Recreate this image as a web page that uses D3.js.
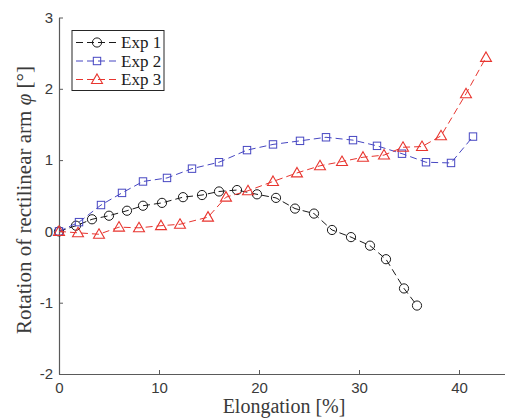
<!DOCTYPE html>
<html>
<head>
<meta charset="utf-8">
<script src="https://cdn.jsdelivr.net/npm/d3@7/dist/d3.min.js"></script>
<style>
  html, body { margin: 0; padding: 0; background: #fff; }
  svg { display: block; }
</style>
</head>
<body>
<svg id="chart" width="505" height="420"></svg>
<script>
// Elongation [%] and rotation [deg] for each experiment
const exp1X = [0, 1.7, 3.3, 5.0, 6.8, 8.4, 10.3, 12.4, 14.3, 16.0, 17.8, 19.8, 21.7, 23.6, 25.5, 27.3, 29.2, 31.1, 32.7, 34.5, 35.8];
const exp1Y = [0, 0.08, 0.17, 0.22, 0.29, 0.36, 0.40, 0.48, 0.51, 0.56, 0.58, 0.52, 0.47, 0.32, 0.25, 0.02, -0.08, -0.20, -0.39, -0.80, -1.04];

const exp2X = [0, 2.0, 4.2, 6.3, 8.4, 10.8, 13.3, 16.0, 18.8, 21.4, 24.1, 26.7, 29.4, 31.8, 34.3, 36.7, 39.2, 41.4];
const exp2Y = [0, 0.13, 0.37, 0.54, 0.70, 0.75, 0.88, 0.97, 1.14, 1.22, 1.27, 1.32, 1.28, 1.20, 1.09, 0.97, 0.96, 1.33];

const exp3X = [0, 1.9, 4.0, 6.0, 8.0, 10.2, 12.1, 14.9, 16.7, 18.9, 21.4, 23.8, 26.1, 28.3, 30.4, 32.5, 34.4, 36.3, 38.2, 40.7, 42.7];
const exp3Y = [0, -0.02, -0.04, 0.06, 0.05, 0.08, 0.10, 0.20, 0.48, 0.57, 0.70, 0.82, 0.92, 0.98, 1.04, 1.07, 1.18, 1.19, 1.34, 1.93, 2.44];

const xTicks = [0, 10, 20, 30, 40];
const yTicks = [-2, -1, 0, 1, 2, 3];
const seriesNames = ["Exp 1", "Exp 2", "Exp 3"];

const series = [
  { name: seriesNames[0], xs: exp1X, ys: exp1Y, color: "#1a1a1a", marker: "circle" },
  { name: seriesNames[1], xs: exp2X, ys: exp2Y, color: "#4747c2", marker: "square" },
  { name: seriesNames[2], xs: exp3X, ys: exp3Y, color: "#e8352f", marker: "triangle" }
];

const svg = d3.select("#chart");
const axisColor = "#5a5a5a";
const serif = "'Liberation Serif', 'DejaVu Serif', serif";
const sans = "'Liberation Sans', Arial, sans-serif";
const plain = d => String(d);

const x = d3.scaleLinear().domain([0, 45]).range([59, 509]);
const y = d3.scaleLinear().domain([-2, 3]).range([374, 17.5]);

// Axes with ticks pointing into the plot
const xAxis = svg.append("g")
  .attr("transform", `translate(0,${y(-2)})`)
  .call(d3.axisBottom(x).tickValues(xTicks).tickFormat(plain).tickSize(-4).tickSizeOuter(0).tickPadding(8));
const yAxis = svg.append("g")
  .attr("transform", `translate(${x(0)},0)`)
  .call(d3.axisLeft(y).tickValues(yTicks).tickFormat(plain).tickSize(-4).tickSizeOuter(0).tickPadding(6));

[xAxis, yAxis].forEach(g => {
  g.select(".domain").attr("stroke", axisColor).attr("stroke-width", 1.2);
  g.selectAll(".tick line").attr("stroke", axisColor).attr("stroke-width", 1);
  g.selectAll(".tick text")
    .attr("fill", "#3a3a3a")
    .style("font-family", sans)
    .style("font-size", "15px");
});

// Series: dashed connecting lines with open markers
const line = d3.line().x(d => x(d[0])).y(d => y(d[1]));

function drawMarker(g, kind, cx, cy, color) {
  if (kind === "circle") {
    g.append("circle").attr("cx", cx).attr("cy", cy).attr("r", 4.6)
      .attr("fill", "none").attr("stroke", color).attr("stroke-width", 1);
  } else if (kind === "square") {
    g.append("rect").attr("x", cx - 3.7).attr("y", cy - 3.7).attr("width", 7.4).attr("height", 7.4)
      .attr("fill", "none").attr("stroke", color).attr("stroke-width", 1);
  } else {
    const s = d3.symbol().type(d3.symbolTriangle).size(52);
    g.append("path").attr("d", s()).attr("transform", `translate(${cx},${cy + 0.8})`)
      .attr("fill", "none").attr("stroke", color).attr("stroke-width", 1.1);
  }
}

const plot = svg.append("g");
series.forEach(s => {
  const pts = s.xs.map((v, i) => [v, s.ys[i]]);
  const g = plot.append("g");
  g.append("path").datum(pts).attr("d", line)
    .attr("fill", "none").attr("stroke", s.color).attr("stroke-width", 1)
    .attr("stroke-dasharray", "7,4");
  pts.forEach(p => drawMarker(g, s.marker, x(p[0]), y(p[1]), s.color));
});

// Legend
const legend = svg.append("g");
legend.append("rect").attr("x", 72).attr("y", 30.5).attr("width", 92).attr("height", 60)
  .attr("fill", "#fff").attr("stroke", "#262626").attr("stroke-width", 1);
series.forEach((s, i) => {
  const ly = 42.5 + i * 18.5;
  legend.append("line").attr("x1", 76).attr("x2", 117).attr("y1", ly).attr("y2", ly)
    .attr("stroke", s.color).attr("stroke-width", 1).attr("stroke-dasharray", "7,4");
  drawMarker(legend, s.marker, 97, ly, s.color);
  legend.append("text").attr("x", 121).attr("y", ly + 5.5)
    .attr("fill", "#1a1a1a")
    .style("font-family", serif).style("font-size", "17px")
    .text(s.name);
});

// Axis titles
svg.append("text")
  .attr("x", 284).attr("y", 413)
  .attr("text-anchor", "middle")
  .attr("fill", "#3a3a3a")
  .style("font-family", serif).style("font-size", "20px")
  .text("Elongation [%]");

const yt = svg.append("text")
  .attr("transform", "translate(31,200) rotate(-90)")
  .attr("text-anchor", "middle")
  .attr("fill", "#3a3a3a")
  .style("font-family", serif).style("font-size", "21px");
yt.append("tspan").text("Rotation of rectilinear arm ");
yt.append("tspan").style("font-style", "italic").text("φ");
yt.append("tspan").text(" [°]");
</script>
</body>
</html>
